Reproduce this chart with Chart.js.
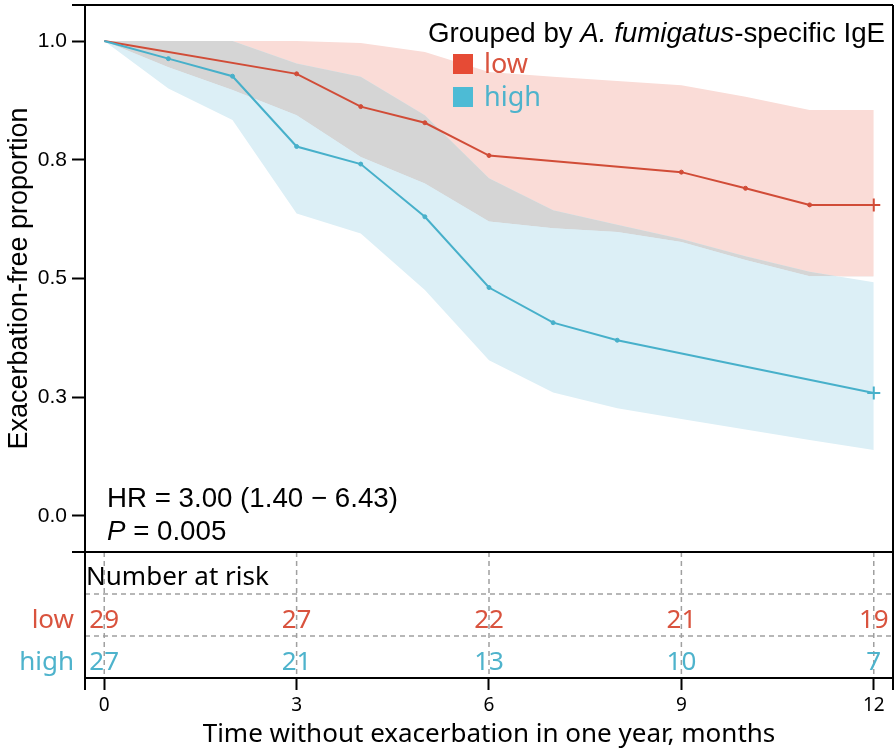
<!DOCTYPE html>
<html><head><meta charset="utf-8">
<script src="https://cdn.jsdelivr.net/npm/chart.js@4.4.0/dist/chart.umd.min.js"></script>
<style>html,body{margin:0;padding:0;background:#fff;overflow:hidden;}#wrap{width:896px;height:751px;}</style>
</head><body><div id="wrap"><canvas id="c" width="896" height="751"></canvas></div>
<script>
// ---- data ----
const bandMonths = [0,1,2,3,4,5,6,7,8,9,10,11,12];
const lowUpper  = [1.0,1.0,1.0,1.0,0.996,0.977,0.935,0.925,0.916,0.907,0.883,0.855,0.855];
const lowLower  = [1.0,0.945,0.897,0.844,0.756,0.700,0.620,0.606,0.598,0.577,0.539,0.505,0.505];
const highUpper = [1.0,1.0,1.0,0.953,0.925,0.844,0.711,0.644,0.613,0.583,0.547,0.514,0.492];
const highLower = [1.0,0.900,0.834,0.637,0.595,0.476,0.328,0.260,0.227,0.204,0.182,0.160,0.139];

const lowMonths = [0,3,4,5,6,9,10,11,12];
const lowSurv   = [1.0,0.931,0.862,0.828,0.759,0.724,0.690,0.655,0.655];
const highMonths = [0,1,2,3,4,5,6,7,8,12];
const highSurv   = [1.0,0.963,0.926,0.778,0.741,0.630,0.481,0.407,0.370,0.259];

const xTicks = [0,3,6,9,12];
const yTicks = [0,0.25,0.5,0.75,1.0];
const yTickLabels = ['0.0','0.3','0.5','0.8','1.0'];

const riskTimes = [0,3,6,9,12];
const riskLow  = [29,27,22,21,19];
const riskHigh = [27,21,13,10,7];
const groupNames = ['low','high'];

// ---- styles ----
const RED = '#D14C37', BLUE = '#47B0CA';
const RED_TXT = '#D9533E', BLUE_TXT = '#4EB3CC';
const PINK = '#FADCD7', LBLUE = '#DCEFF6', GRAY = '#D5D5D5';
const SANS = '"Liberation Sans", Arial, sans-serif';
const UI = '"Noto Sans", "Open Sans", sans-serif';

const pts = (xs, ys) => xs.map((x, i) => ({x: x, y: ys[i]}));
const band = (data, order, fill, color) => ({
  data: data, order: order, fill: fill, backgroundColor: color || 'rgba(0,0,0,0)',
  borderWidth: 0, borderColor: 'rgba(0,0,0,0)', pointRadius: 0, tension: 0
});
const curve = (data, color, order) => ({
  data: data, order: order, fill: false, borderColor: color, backgroundColor: color,
  borderWidth: 2, tension: 0,
  pointRadius: c => c.dataIndex === 0 ? 0 : (c.dataIndex === c.dataset.data.length - 1 ? 6.5 : 2),
  pointStyle: c => c.dataIndex === c.dataset.data.length - 1 ? 'cross' : 'circle',
  pointBorderWidth: c => c.dataIndex === c.dataset.data.length - 1 ? 2 : 1,
  pointBorderColor: color, pointBackgroundColor: color
});
const noPad = s => { s.paddingTop = 0; s.paddingBottom = 0; s.paddingLeft = 0; s.paddingRight = 0; };

const decor = {
  id: 'decor',
  afterDraw(chart) {
    const {ctx, chartArea: ca, scales} = chart;
    const x = scales.x, y = scales.y, y2 = scales.y2;
    const L = ca.left, R = ca.right, T = ca.top, M = y.bottom, B = ca.bottom;
    ctx.save();
    // dashed grid of risk table
    ctx.strokeStyle = '#A0A0A0'; ctx.lineWidth = 1.5; ctx.setLineDash([5, 4]);
    xTicks.forEach(v => {
      const px = x.getPixelForValue(v);
      ctx.beginPath(); ctx.moveTo(px, M); ctx.lineTo(px, B); ctx.stroke();
    });
    [1, 2].forEach(v => {
      const py = y2.getPixelForValue(v);
      ctx.beginPath(); ctx.moveTo(L, py); ctx.lineTo(R, py); ctx.stroke();
    });
    ctx.setLineDash([]);
    // frame
    ctx.strokeStyle = '#000'; ctx.lineWidth = 2;
    ctx.beginPath();
    ctx.moveTo(L - 13, T); ctx.lineTo(R, T);
    ctx.moveTo(L - 13, M); ctx.lineTo(R, M);
    ctx.moveTo(L, T); ctx.lineTo(L, B + 12);
    ctx.moveTo(R, T); ctx.lineTo(R, B + 12);
    ctx.stroke();

    // y title
    ctx.fillStyle = '#000';
    ctx.save();
    ctx.translate(27, (y.top + y.bottom) / 2);
    ctx.rotate(-Math.PI / 2);
    ctx.font = '27px ' + SANS; ctx.textAlign = 'center'; ctx.textBaseline = 'alphabetic';
    ctx.fillText('Exacerbation-free proportion', 0, 0);
    ctx.restore();

    // legend title (rich text)
    ctx.textAlign = 'left'; ctx.textBaseline = 'alphabetic';
    const parts = [
      {t: 'Grouped by ', f: '27.7px ' + SANS},
      {t: 'A. fumigatus', f: 'italic 27.7px ' + SANS},
      {t: '-specific IgE', f: '27.7px ' + SANS}
    ];
    let tot = 0;
    parts.forEach(p => { ctx.font = p.f; p.w = ctx.measureText(p.t).width; tot += p.w; });
    let xx = 885 - tot;
    parts.forEach(p => { ctx.font = p.f; ctx.fillText(p.t, xx, 42); xx += p.w; });
    // legend keys
    ctx.fillStyle = '#E64B35'; ctx.fillRect(453, 54, 20, 20);
    ctx.fillStyle = '#4DBBD5'; ctx.fillRect(453, 87, 20, 20);
    ctx.font = '27px ' + UI;
    ctx.fillStyle = RED_TXT; ctx.fillText(groupNames[0], 484, 73);
    ctx.fillStyle = BLUE_TXT; ctx.fillText(groupNames[1], 484, 106);

    // HR / P annotation
    ctx.fillStyle = '#000';
    ctx.font = '27.7px ' + SANS;
    ctx.fillText('HR = 3.00 (1.40 \u2212 6.43)', 107, 507);
    ctx.font = 'italic 27.7px ' + SANS;
    ctx.fillText('P', 107, 540);
    const pw = ctx.measureText('P').width;
    ctx.font = '27.7px ' + SANS;
    ctx.fillText(' = 0.005', 107 + pw, 540);

    // risk table
    ctx.font = '26px ' + UI;
    ctx.fillStyle = '#000'; ctx.textAlign = 'left';
    ctx.fillText('Number at risk', L + 1, y2.getPixelForValue(2.5) + 12);
    const rows = [{vals: riskLow, c: RED_TXT, v: 1.5, name: groupNames[0]},
                  {vals: riskHigh, c: BLUE_TXT, v: 0.5, name: groupNames[1]}];
    rows.forEach(r => {
      const py = y2.getPixelForValue(r.v) + 13;
      ctx.fillStyle = r.c;
      ctx.textAlign = 'right'; ctx.fillText(r.name, 74, py);
      ctx.textAlign = 'center';
      r.vals.forEach((n, i) => ctx.fillText(String(n), x.getPixelForValue(riskTimes[i]), py));
    });

    // x title
    ctx.fillStyle = '#000'; ctx.textAlign = 'center';
    ctx.font = '26px ' + UI;
    ctx.fillText('Time without exacerbation in one year, months', (L + R) / 2, 742);
    ctx.restore();
  }
};

new Chart(document.getElementById('c'), {
  type: 'line',
  data: {
    datasets: [
      band(pts(bandMonths, lowLower), 10, false),                                   // 0
      band(pts(bandMonths, lowUpper), 9, {target: 0, above: PINK, below: PINK}, PINK),     // 1
      band(pts(bandMonths, highLower), 8, false),                                  // 2
      band(pts(bandMonths, highUpper), 7, {target: 2, above: LBLUE, below: LBLUE}, LBLUE), // 3
      band(pts(bandMonths, highUpper), 6, {target: 0, above: GRAY, below: 'rgba(0,0,0,0)'}, GRAY), // 4 overlap
      curve(pts(lowMonths, lowSurv), RED, 2),
      curve(pts(highMonths, highSurv), BLUE, 1)
    ]
  },
  options: {
    responsive: false, animation: false, devicePixelRatio: 1, events: [],
    layout: {autoPadding: false, padding: {left: 0, right: 3, top: 5, bottom: 0}},
    plugins: {legend: {display: false}, tooltip: {enabled: false}, title: {display: false},
              filler: {drawTime: 'beforeDatasetsDraw'}},
    scales: {
      x: {
        type: 'linear', position: 'bottom', min: -0.3, max: 12.3,
        afterBuildTicks: s => { s.ticks = xTicks.map(v => ({value: v})); },
        afterFit: s => { s.height = 73; noPad(s); },
        grid: {drawOnChartArea: false, drawTicks: true, tickLength: 12, tickWidth: 2, tickColor: '#000'},
        border: {display: true, color: '#000', width: 2},
        ticks: {font: {family: UI, size: 19}, color: '#000', padding: 4, maxRotation: 0, autoSkip: false}
      },
      y: {
        type: 'linear', position: 'left', min: -0.076, max: 1.076, stack: 'panel', stackWeight: 547, weight: 1,
        afterBuildTicks: s => { s.ticks = yTicks.map(v => ({value: v})); },
        afterFit: s => { s.width = 85; noPad(s); },
        grid: {drawOnChartArea: false, drawTicks: true, tickLength: 13, tickWidth: 2, tickColor: '#000'},
        border: {display: false},
        ticks: {callback: (v, i) => yTickLabels[i], font: {family: SANS, size: 21}, color: '#000', padding: 5}
      },
      y2: {
        type: 'linear', position: 'left', min: 0, max: 3, stack: 'panel', stackWeight: 126, weight: 0,
        afterFit: s => { s.width = 85; noPad(s); },
        grid: {display: false}, border: {display: false}, ticks: {display: false}
      }
    }
  },
  plugins: [decor]
});
</script>
</body></html>
